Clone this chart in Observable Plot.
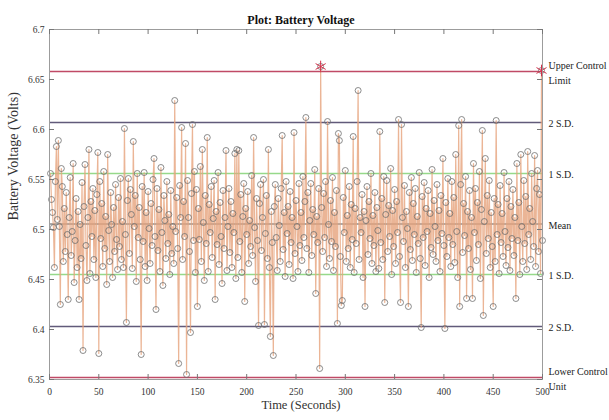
<!DOCTYPE html>
<html>
<head>
<meta charset="utf-8">
<script src="https://cdn.jsdelivr.net/npm/d3@7"></script>
<script src="https://cdn.jsdelivr.net/npm/@observablehq/plot@0.6"></script>
<style>
  html, body { margin: 0; padding: 0; background: #fff; }
</style>
</head>
<body>
<div id="chart"></div>
<script>
const chartTitle = "Plot: Battery Voltage";
const xLabel = "Time (Seconds)";
const yLabel = "Battery Voltage (Volts)";

// Battery voltage, one reading per second (t = 1..500)
const voltage = [
  6.556, 6.530, 6.517, 6.502, 6.462, 6.548, 6.583, 6.510, 6.589, 6.503,
  6.425, 6.561, 6.543, 6.468, 6.521, 6.478, 6.537, 6.495, 6.430, 6.512,
  6.552, 6.474, 6.498, 6.566, 6.447, 6.489, 6.531, 6.462, 6.518, 6.430,
  6.505, 6.471, 6.547, 6.379, 6.523, 6.565, 6.484, 6.449, 6.512, 6.580,
  6.456, 6.528, 6.493, 6.541, 6.470, 6.519, 6.452, 6.535, 6.577, 6.376,
  6.548, 6.491, 6.526, 6.463, 6.558, 6.481, 6.513, 6.445, 6.575, 6.499,
  6.468, 6.537, 6.505, 6.452, 6.522, 6.478, 6.545, 6.490, 6.460, 6.532,
  6.483, 6.551, 6.470, 6.508, 6.462, 6.601, 6.495, 6.407, 6.529, 6.551,
  6.476, 6.540, 6.515, 6.461, 6.588, 6.503, 6.534, 6.448, 6.556, 6.492,
  6.522, 6.470, 6.375, 6.543, 6.488, 6.557, 6.463, 6.517, 6.449, 6.538,
  6.501, 6.466, 6.526, 6.484, 6.550, 6.571, 6.493, 6.420, 6.541, 6.479,
  6.520, 6.458, 6.562, 6.497, 6.444, 6.534, 6.509, 6.471, 6.548, 6.486,
  6.515, 6.455, 6.539, 6.476, 6.503, 6.466, 6.629, 6.498, 6.532, 6.481,
  6.366, 6.544, 6.512, 6.602, 6.470, 6.528, 6.493, 6.586, 6.355, 6.549,
  6.512, 6.478, 6.397, 6.536, 6.605, 6.489, 6.558, 6.457, 6.540, 6.423,
  6.521, 6.490, 6.563, 6.468, 6.580, 6.507, 6.449, 6.534, 6.486, 6.592,
  6.458, 6.525, 6.497, 6.543, 6.472, 6.511, 6.549, 6.430, 6.518, 6.485,
  6.557, 6.465, 6.527, 6.493, 6.446, 6.539, 6.481, 6.512, 6.579, 6.459,
  6.503, 6.541, 6.477, 6.528, 6.462, 6.516, 6.497, 6.576, 6.451, 6.580,
  6.472, 6.579, 6.488, 6.535, 6.457, 6.513, 6.546, 6.428, 6.521, 6.495,
  6.538, 6.466, 6.509, 6.483, 6.554, 6.474, 6.592, 6.502, 6.448, 6.531,
  6.489, 6.404, 6.526, 6.545, 6.479, 6.512, 6.550, 6.405, 6.496, 6.534,
  6.471, 6.580, 6.462, 6.393, 6.518, 6.487, 6.374, 6.523, 6.545, 6.492,
  6.459, 6.531, 6.504, 6.468, 6.541, 6.594, 6.480, 6.517, 6.453, 6.548,
  6.496, 6.523, 6.465, 6.538, 6.487, 6.512, 6.451, 6.597, 6.476, 6.529,
  6.503, 6.458, 6.546, 6.484, 6.517, 6.469, 6.553, 6.492, 6.528, 6.612,
  6.481, 6.537, 6.457, 6.509, 6.546, 6.474, 6.520, 6.495, 6.560, 6.436,
  6.513, 6.487, 6.541, 6.361, 6.663, 6.522, 6.478, 6.536, 6.492, 6.548,
  6.463, 6.608, 6.505, 6.471, 6.529, 6.488, 6.552, 6.459, 6.517, 6.483,
  6.539, 6.406, 6.596, 6.589, 6.473, 6.424, 6.429, 6.532, 6.497, 6.559,
  6.468, 6.514, 6.481, 6.543, 6.462, 6.525, 6.490, 6.593, 6.457, 6.521,
  6.486, 6.548, 6.639, 6.470, 6.512, 6.497, 6.535, 6.452, 6.518, 6.423,
  6.509, 6.543, 6.475, 6.528, 6.491, 6.556, 6.466, 6.514, 6.484, 6.537,
  6.458, 6.522, 6.499, 6.461, 6.598, 6.487, 6.531, 6.470, 6.553, 6.427,
  6.515, 6.549, 6.478, 6.524, 6.493, 6.561, 6.455, 6.519, 6.483, 6.540,
  6.466, 6.528, 6.497, 6.610, 6.473, 6.427, 6.605, 6.512, 6.488, 6.544,
  6.462, 6.518, 6.501, 6.423, 6.537, 6.480, 6.552, 6.469, 6.526, 6.495,
  6.541, 6.457, 6.513, 6.486, 6.557, 6.471, 6.402, 6.533, 6.492, 6.547,
  6.464, 6.521, 6.498, 6.539, 6.452, 6.516, 6.482, 6.560, 6.475, 6.529,
  6.503, 6.468, 6.545, 6.489, 6.519, 6.458, 6.534, 6.496, 6.571, 6.484,
  6.401, 6.527, 6.473, 6.551, 6.492, 6.516, 6.463, 6.548, 6.485, 6.532,
  6.467, 6.575, 6.498, 6.452, 6.604, 6.423, 6.545, 6.610, 6.477, 6.526,
  6.494, 6.553, 6.431, 6.518, 6.481, 6.539, 6.460, 6.512, 6.431, 6.566,
  6.497, 6.541, 6.469, 6.527, 6.485, 6.558, 6.451, 6.520, 6.599, 6.414,
  6.508, 6.571, 6.476, 6.534, 6.491, 6.549, 6.462, 6.517, 6.483, 6.423,
  6.531, 6.468, 6.609, 6.495, 6.525, 6.456, 6.544, 6.487, 6.516, 6.473,
  6.557, 6.498, 6.464, 6.531, 6.482, 6.548, 6.459, 6.523, 6.491, 6.540,
  6.474, 6.512, 6.431, 6.566, 6.489, 6.527, 6.455, 6.575, 6.503, 6.468,
  6.549, 6.486, 6.533, 6.460, 6.578, 6.495, 6.521, 6.470, 6.556, 6.508,
  6.483, 6.574, 6.463, 6.541, 6.559, 6.478, 6.535, 6.456, 6.659, 6.489
];
const times = voltage.map((_, i) => i + 1);

// Control chart reference levels
const refNames  = ["Upper Control\nLimit", "2 S.D.", "1 S.D.", "Mean", "1 S.D.", "2 S.D.", "Lower Control\nUnit"];
const refValues = [6.658, 6.607, 6.556, 6.5055, 6.455, 6.403, 6.352];
const refKinds  = ["limit", "sd2", "sd1", "mean", "sd1", "sd2", "limit"];

const xTicks = [0, 50, 100, 150, 200, 250, 300, 350, 400, 450, 500];
const yTicks = [6.35, 6.4, 6.45, 6.5, 6.55, 6.6, 6.65, 6.7];
const yTickLabels = ["6.35", "6.4", "6.45", "6.5", "6.55", "6.6", "6.65", "6.7"];

const kindColor = {limit: "#c04a66", sd2: "#615a7a", sd1: "#96d98a", mean: "#8c8c8c"};

const data = times.map((t, i) => ({t, v: voltage[i]}));
const refs = refValues.map((v, i) => ({value: v, name: refNames[i], kind: refKinds[i]}));
const ucl = refValues[0];
const outliers = data.filter(d => d.v > ucl);

const W = 609, H = 420, mL = 49, mR = 67, mT = 29, mB = 41;
const innerH = H - mT - mB, innerW = W - mL - mR;

const chart = Plot.plot({
  width: W, height: H,
  marginLeft: mL, marginRight: mR, marginTop: mT, marginBottom: mB,
  x: {domain: [0, 500]},
  y: {domain: [6.35, 6.7]},
  color: {type: "identity"},
  style: {fontFamily: "'Liberation Serif', 'DejaVu Serif', serif", background: "#fff", color: "#333"},
  marks: [
    Plot.ruleY(refs, {y: "value", stroke: d => kindColor[d.kind], strokeWidth: 1.3}),
    Plot.line(data, {x: "t", y: "v", stroke: "#e6a27c", strokeWidth: 1.2, strokeOpacity: 0.8}),
    Plot.dot(data, {x: "t", y: "v", r: 3, stroke: "#6e6e6e", strokeWidth: 0.8, fill: "none"}),
    Plot.dot(outliers, {x: "t", y: "v", symbol: "asterisk", r: 5.5, stroke: "#d3304a", strokeWidth: 1}),
    Plot.frame({stroke: "#9c9c9c"}),
    // inward ticks
    Plot.tickX(xTicks, {x: d => d, insetTop: innerH - 5, stroke: "#777"}),
    Plot.tickX(xTicks, {x: d => d, insetBottom: innerH - 5, stroke: "#777"}),
    Plot.tickY(yTicks, {y: d => d, insetRight: innerW - 5, stroke: "#777"}),
    Plot.tickY(yTicks, {y: d => d, insetLeft: innerW - 5, stroke: "#777"}),
    Plot.axisX({ticks: xTicks, tickSize: 0, tickPadding: 9, fontSize: 9.5, label: null, tickFormat: d => String(d)}),
    Plot.axisY({ticks: yTicks, tickSize: 0, tickPadding: 5, fontSize: 9.5, label: null,
                tickFormat: d => yTickLabels[yTicks.indexOf(d)]}),
    Plot.text(refs, {x: 500, y: "value", text: "name", textAnchor: "start", dx: 6, dy: 0,
                     fontSize: 10, lineHeight: 1.55, fill: "#222"}),
    Plot.text([chartTitle], {frameAnchor: "top", dx: 5, dy: -14, fontSize: 12, fontWeight: "bold", fill: "#111"}),
    Plot.text([yLabel], {frameAnchor: "left", dx: -36, dy: 16, rotate: -90, fontSize: 14, fill: "#333"}),
    Plot.text([xLabel], {frameAnchor: "bottom", dx: 5, dy: 29, fontSize: 12.5, fill: "#333"})
  ]
});
document.getElementById("chart").appendChild(chart);
</script>
</body>
</html>
